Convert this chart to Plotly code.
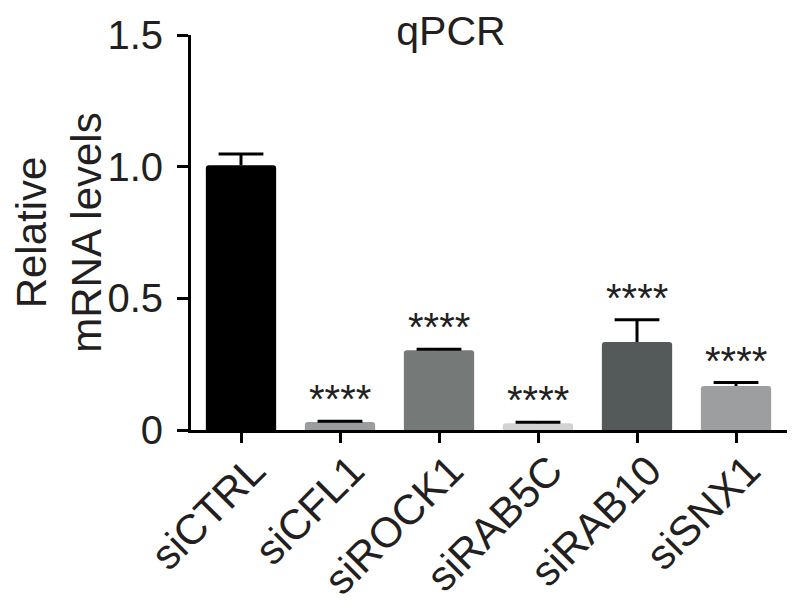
import plotly.graph_objects as go

categories = ["siCTRL", "siCFL1", "siROCK1", "siRAB5C", "siRAB10", "siSNX1"]
values = [1.005, 0.030, 0.303, 0.026, 0.334, 0.167]
errors = [0.043, 0.003, 0.004, 0.003, 0.085, 0.013]
colors = ["#000000", "#9a9c9e", "#757a79", "#d2d2d2", "#54595a", "#9c9ea0"]
signif = ["", "****", "****", "****", "****", "****"]
y_ticks = [0, 0.5, 1.0, 1.5]
y_ticklabels = ["0", "0.5", "1.0", "1.5"]

FONT = "Liberation Sans, Arial, Helvetica, sans-serif"
TXT = "#231f20"

xs = list(range(len(categories)))
tops = [v + e for v, e in zip(values, errors)]

fig = go.Figure()
fig.add_trace(go.Bar(
    x=xs,
    y=values,
    width=0.71,
    marker=dict(color=colors, line=dict(width=0), cornerradius=3),
    error_y=dict(type="data", array=errors, arrayminus=[0] * len(errors),
                 symmetric=False, color="#000000", thickness=3, width=0),
    showlegend=False,
    hoverinfo="skip",
))
# error-bar caps
fig.add_trace(go.Scatter(
    x=xs, y=tops, mode="markers",
    marker=dict(symbol="line-ew", size=32, line=dict(width=3, color="#000000")),
    showlegend=False, hoverinfo="skip",
))

for i, (t, s) in enumerate(zip(tops, signif)):
    if s:
        fig.add_annotation(x=i, y=t, text=s, showarrow=False,
                           xanchor="center", yanchor="bottom", yshift=-2,
                           font=dict(family=FONT, size=40, color=TXT))

# page body has an 8px margin; compensate in the figure margins
fig.update_layout(
    width=800, height=609,
    margin=dict(l=183, r=21, t=27, b=187, autoexpand=False),
    paper_bgcolor="white", plot_bgcolor="white",
    font=dict(family=FONT, color=TXT),
    title=dict(text="qPCR", x=443 / 800, xanchor="center", xref="container",
               y=1 - 23 / 609, yanchor="middle", yref="container",
               font=dict(family=FONT, size=41, color=TXT)),
)

fig.update_xaxes(
    range=[-0.505, 5.515], automargin=False,
    tickmode="array", tickvals=xs, ticktext=categories,
    tickangle=-45, tickfont=dict(family=FONT, size=42, color=TXT),
    ticklabelstandoff=-14, ticklabelshift=12,
    showline=True, linecolor="#000000", linewidth=3,
    ticks="outside", ticklen=10, tickwidth=3, tickcolor="#000000",
    showgrid=False, zeroline=False,
)
fig.update_yaxes(
    range=[0, 1.5], automargin=False,
    tickmode="array", tickvals=y_ticks, ticktext=y_ticklabels,
    tickfont=dict(family=FONT, size=40, color=TXT),
    ticklabelstandoff=6,
    showline=True, linecolor="#000000", linewidth=3,
    ticks="outside", ticklen=11, tickwidth=3, tickcolor="#000000",
    showgrid=False, zeroline=False,
    title=dict(text="Relative<br>mRNA levels", standoff=4,
               font=dict(family=FONT, size=42, color=TXT)),
)

fig.write_html("out.html")
